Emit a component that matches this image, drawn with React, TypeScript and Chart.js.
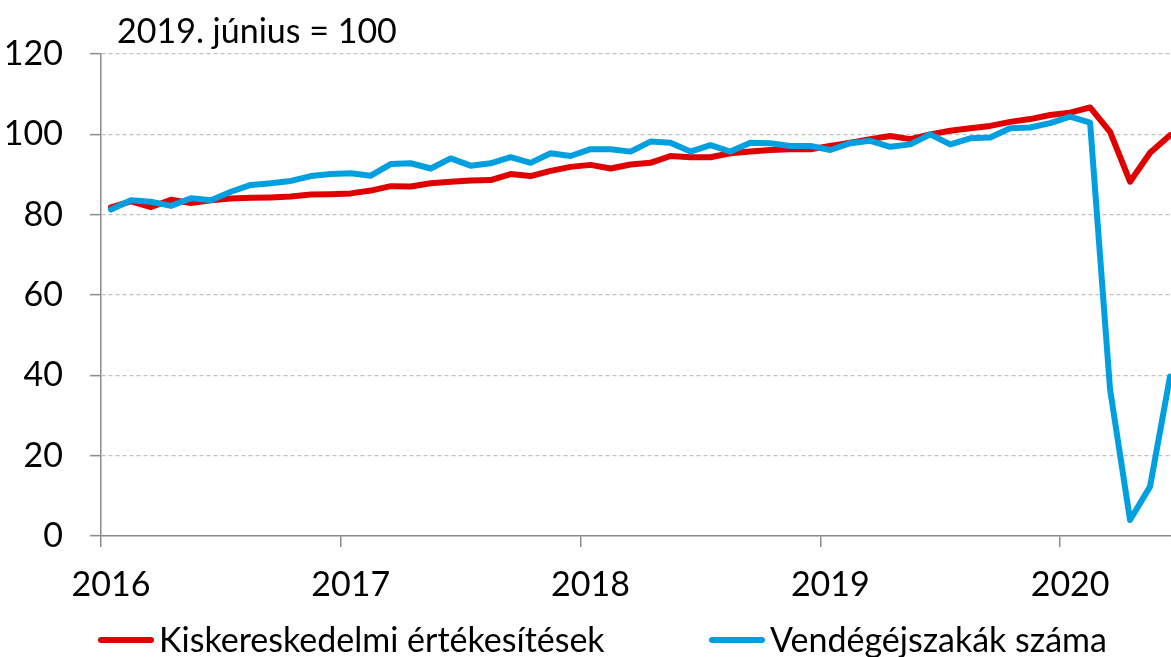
import React, { useEffect, useRef } from 'react';
import { Chart, registerables } from 'chart.js';

Chart.register(...registerables);

// ---- data ----
const years = ['2016', '2017', '2018', '2019', '2020'];
const monthsPerYear = 12;
const unitNote = '2019. június = 100';
const seriesLabels = ['Kiskereskedelmi értékesítések', 'Vendégéjszakák száma'];
const seriesColors = ['#e00000', '#00a0e0'];
const yMin = 0;
const yMax = 120;
const yStep = 20;

// monthly values, Jan 2016 - Jun 2020
const retailSales = [
  81.8, 83.3, 81.9, 83.7, 82.9, 83.6, 84.0, 84.2, 84.3, 84.5, 85.0, 85.1,
  85.3, 86.0, 87.1, 87.0, 87.8, 88.2, 88.5, 88.6, 90.1, 89.6, 90.9, 91.9,
  92.4, 91.5, 92.5, 92.9, 94.6, 94.3, 94.3, 95.3, 95.7, 96.1, 96.3, 96.3,
  97.1, 97.9, 98.8, 99.6, 98.8, 100.0, 100.9, 101.5, 102.1, 103.1, 103.8, 104.8,
  105.4, 106.7, 100.6, 88.2, 95.4, 99.8,
];
const guestNights = [
  81.3, 83.6, 83.2, 82.2, 84.1, 83.6, 85.7, 87.4, 87.8, 88.4, 89.6, 90.1,
  90.3, 89.7, 92.6, 92.8, 91.5, 94.0, 92.2, 92.8, 94.3, 92.9, 95.3, 94.6,
  96.3, 96.3, 95.7, 98.2, 97.9, 95.7, 97.3, 95.7, 97.9, 97.8, 97.1, 97.1,
  96.1, 97.8, 98.4, 96.9, 97.5, 100.0, 97.5, 99.0, 99.2, 101.5, 101.7, 102.8,
  104.4, 102.9, 36.5, 4.0, 12.3, 39.7,
];

const FONT = 'Lato, "Open Sans", sans-serif';
const FONT_SIZE = 34;
const AXIS_GRAY = '#8c8c8c';
const GRID_GRAY = '#c0c0c0';

// each month is plotted in the middle of its slot on a month-index axis
const toPoints = (arr: number[]) => arr.map((v, i) => ({ x: i + 0.5, y: v }));

const overlayPlugin = {
  id: 'overlay',
  afterDraw(chart: any) {
    const { ctx, chartArea } = chart;
    ctx.save();
    ctx.fillStyle = '#000';
    ctx.font = `${FONT_SIZE}px ${FONT}`;
    ctx.textAlign = 'left';
    ctx.textBaseline = 'alphabetic';
    ctx.fillText(unitNote, chartArea.left + 16, chartArea.top - 11);

    const legendY = chartArea.bottom + 104;
    const starts = [98, 709];
    chart.data.datasets.forEach((ds: any, i: number) => {
      const x0 = starts[i];
      ctx.strokeStyle = ds.borderColor;
      ctx.lineWidth = 6;
      ctx.lineCap = 'round';
      ctx.beginPath();
      ctx.moveTo(x0 + 3, legendY);
      ctx.lineTo(x0 + 53, legendY);
      ctx.stroke();
      ctx.fillText(ds.label, x0 + 61, legendY + 12);
    });
    ctx.restore();
  },
};

export default function App() {
  const canvasRef = useRef<HTMLCanvasElement | null>(null);

  useEffect(() => {
    if (!canvasRef.current) return;
    Chart.defaults.font.family = FONT;
    Chart.defaults.color = '#000';

    const chart = new Chart(canvasRef.current, {
      type: 'line',
      data: {
        datasets: [
          {
            label: seriesLabels[0],
            data: toPoints(retailSales),
            borderColor: seriesColors[0],
            backgroundColor: seriesColors[0],
            borderWidth: 6,
            pointRadius: 0,
            tension: 0,
            borderJoinStyle: 'round',
            borderCapStyle: 'round',
            order: 1,
          },
          {
            label: seriesLabels[1],
            data: toPoints(guestNights),
            borderColor: seriesColors[1],
            backgroundColor: seriesColors[1],
            borderWidth: 6,
            pointRadius: 0,
            tension: 0,
            borderJoinStyle: 'round',
            borderCapStyle: 'round',
            order: 0,
          },
        ],
      },
      options: {
        animation: false,
        responsive: false,
        devicePixelRatio: 1,
        layout: { padding: { top: 54, left: 0, right: 0, bottom: 61 } },
        plugins: {
          legend: { display: false },
          title: { display: false },
          tooltip: { enabled: false },
        },
        scales: {
          x: {
            type: 'linear',
            min: 0,
            max: retailSales.length,
            afterBuildTicks: (scale: any) => {
              scale.ticks = years.map((_, i) => ({ value: i * monthsPerYear }));
            },
            afterFit: (scale: any) => {
              scale.height = 60;
            },
            ticks: {
              autoSkip: false,
              maxRotation: 0,
              minRotation: 0,
              labelOffset: 10,
              padding: 18,
              font: { size: FONT_SIZE, family: FONT },
              color: '#000',
              callback: (v: any) => years[Math.round(Number(v) / monthsPerYear)] ?? '',
            },
            grid: {
              drawOnChartArea: false,
              drawTicks: true,
              tickLength: 11,
              color: AXIS_GRAY,
              lineWidth: 1.5,
            },
            border: { color: AXIS_GRAY, width: 1.5 },
          },
          y: {
            min: yMin,
            max: yMax,
            afterFit: (scale: any) => {
              scale.width = 101;
            },
            ticks: {
              stepSize: yStep,
              padding: 27,
              font: { size: FONT_SIZE, family: FONT },
              color: '#000',
            },
            grid: {
              color: GRID_GRAY,
              lineWidth: 1.3,
              tickLength: 11,
              tickColor: AXIS_GRAY,
              tickWidth: 1.5,
              tickBorderDash: [],
            },
            border: { color: AXIS_GRAY, width: 1.5, dash: [4, 3] },
          },
        },
      },
      plugins: [overlayPlugin],
    } as any);

    return () => chart.destroy();
  }, []);

  return (
    <div
      style={{
        position: 'fixed',
        left: 0,
        top: 0,
        width: 1171,
        height: 657,
        overflow: 'hidden',
        background: '#fff',
      }}
    >
      <canvas ref={canvasRef} width={1180} height={657} style={{ display: 'block' }} />
    </div>
  );
}
